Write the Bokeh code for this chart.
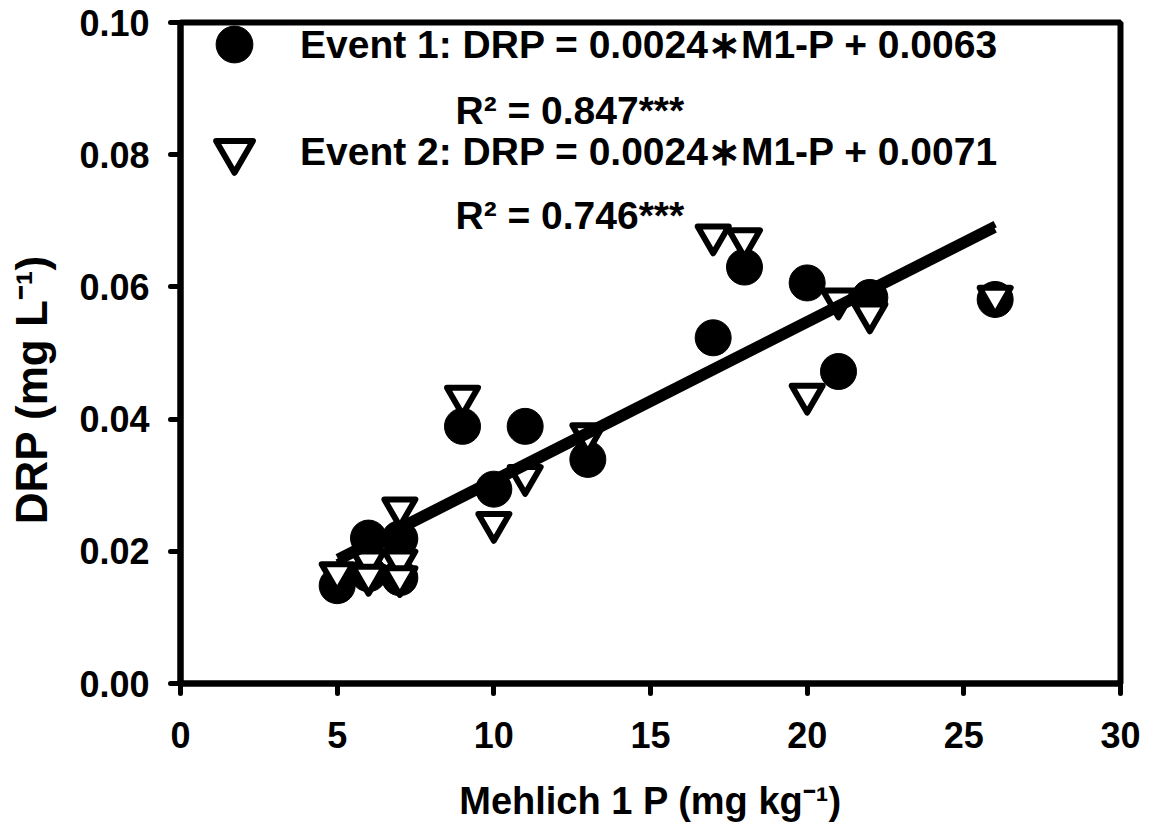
from bokeh.plotting import figure
from bokeh.models import (Range1d, Legend, LegendItem, Label, FixedTicker,
                          NumeralTickFormatter)
from bokeh.embed import file_html
from bokeh.resources import INLINE

# ---- data ----
ev1_x = [5, 6, 6, 7, 7, 9, 10, 11, 13, 17, 18, 20, 21, 22, 26]
ev1_y = [0.0148, 0.0220, 0.0166, 0.0219, 0.0160, 0.0389, 0.0294, 0.0389,
         0.0339, 0.0523, 0.0630, 0.0606, 0.0472, 0.0584, 0.0581]
ev2_x = [5, 6, 6, 7, 7, 7, 9, 10, 11, 13, 17, 18, 20, 21, 22, 26]
ev2_y = [0.0167, 0.0186, 0.0163, 0.0265, 0.0186, 0.0161, 0.0434, 0.0243,
         0.0314, 0.0377, 0.0678, 0.0672, 0.0437, 0.0581, 0.0560, 0.0585]
slopes = [0.0024, 0.0024]
intercepts = [0.0063, 0.0071]
fit_x = [5, 26]
x_ticks = [0, 5, 10, 15, 20, 25, 30]
y_ticks = [0.0, 0.02, 0.04, 0.06, 0.08, 0.10]
eq_labels = ["Event 1: DRP = 0.0024\u2217M1-P + 0.0063",
             "Event 2: DRP = 0.0024\u2217M1-P + 0.0071"]
r2_labels = ["R\u00b2 = 0.847***", "R\u00b2 = 0.746***"]
x_title = "Mehlich 1 P (mg kg\u207b\u00b9)"
y_title = "DRP (mg L\u207b\u00b9)"

FONT = "Liberation Sans"
W, H = 1141, 824

p = figure(width=W, height=H, output_backend="svg", toolbar_location=None,
           x_range=Range1d(0, 30), y_range=Range1d(0, 0.1),
           min_border_left=180, min_border_right=W - 1120, min_border_top=22,
           min_border_bottom=H - 686)
p.grid.visible = False
p.outline_line_color = "black"
p.outline_line_width = 6
p.background_fill_color = "white"
p.border_fill_color = "white"

for ax in (p.xaxis[0], p.yaxis[0]):
    ax.axis_line_width = 6
    ax.axis_line_color = "black"
    ax.major_tick_line_width = 5
    ax.major_tick_line_cap = "round"
    ax.major_tick_out = 10
    ax.major_tick_in = 0
    ax.minor_tick_line_color = None
    ax.major_label_text_font = FONT
    ax.major_label_text_font_style = "bold"
    ax.major_label_text_color = "black"
    ax.axis_label_text_font = FONT
    ax.axis_label_text_font_style = "bold"
    ax.axis_label_text_color = "black"

p.xaxis[0].ticker = FixedTicker(ticks=x_ticks)
p.yaxis[0].ticker = FixedTicker(ticks=y_ticks)
p.yaxis[0].formatter = NumeralTickFormatter(format="0.00")
p.xaxis[0].major_label_text_font_size = "36px"
p.yaxis[0].major_label_text_font_size = "36px"
p.xaxis[0].major_label_standoff = 28
p.yaxis[0].major_label_standoff = 21

p.xaxis[0].axis_label = x_title
p.xaxis[0].axis_label_text_font_size = "38px"
p.xaxis[0].axis_label_standoff = 29
p.yaxis[0].axis_label = y_title + "\u00a0" * 6
p.yaxis[0].axis_label_text_font_size = "44px"
p.yaxis[0].axis_label_standoff = 20

r1 = p.scatter(ev1_x, ev1_y, marker="circle", size=36, fill_color="black",
               line_color="black", line_width=1)
r2 = p.scatter(ev2_x, ev2_y, marker="inverted_triangle", size=31,
               fill_color="white", line_color="black", line_width=6,
               line_join="round")

for m, b in zip(slopes, intercepts):
    p.line(fit_x, [m * x + b for x in fit_x], line_color="black",
           line_width=7)

legend = Legend(items=[LegendItem(label=eq_labels[0], renderers=[r1]),
                       LegendItem(label=eq_labels[1], renderers=[r2])],
                location=(8, 486), glyph_width=92, glyph_height=92,
                spacing=15, padding=0, margin=0, label_standoff=20,
                label_text_font=FONT, label_text_font_size="39px",
                label_text_font_style="bold", label_text_color="black",
                border_line_color=None, background_fill_alpha=0)
p.add_layout(legend, "center")

for txt, yy in zip(r2_labels, [573, 468]):
    p.add_layout(Label(x=275, y=yy, x_units="screen", y_units="screen",
                       text=txt, text_font=FONT, text_font_size="39px",
                       text_font_style="bold", text_color="black",
                       text_baseline="alphabetic", text_align="left"))

open("out.html", "w").write(file_html(p, INLINE))
